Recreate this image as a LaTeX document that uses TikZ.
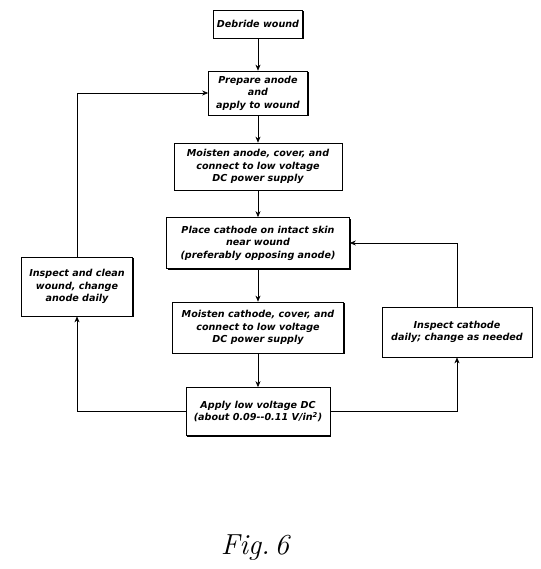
\documentclass[tikz,border=0pt]{standalone}
\usepackage{fontspec}
\usepackage{tikz}
\usetikzlibrary{arrows.meta,shadows}
\newfontfamily\handfont{DejaVu Sans}

\begin{document}
\begin{tikzpicture}[x=1pt,y=-1pt,
  box/.style={draw,line width=0.7pt,fill=white,align=center,inner sep=2pt,
    font=\handfont\bfseries\itshape\fontsize{9.6}{12.6}\selectfont,
    drop shadow={shadow xshift=1.3pt,shadow yshift=-1.3pt,fill=black,opacity=1}},
  arr/.style={-{Stealth[length=6pt,width=5pt]},line width=0.6pt}]
\useasboundingbox (0,0) rectangle (540,569);
\node[box,minimum width=89pt,minimum height=28pt] (b1) at (258,24) {Debride wound};
\node[box,minimum width=99pt,minimum height=44pt] (b2) at (258,93) {Prepare anode\\and\\apply to wound};
\node[box,minimum width=168pt,minimum height=47pt] (b3) at (258,166.5) {Moisten anode, cover, and\\connect to low voltage\\DC power supply};
\node[box,minimum width=183pt,minimum height=51pt] (b4) at (258,243) {Place cathode on intact skin\\near wound\\(preferably opposing anode)};
\node[box,minimum width=171pt,minimum height=51pt] (b5) at (258,327.5) {Moisten cathode, cover, and\\connect to low voltage\\DC power supply};
\node[box,minimum width=144pt,minimum height=48pt] (b6) at (258,411.5) {Apply low voltage DC\\(about 0.09--0.11 V/in\textsuperscript{2})};
\node[box,minimum width=111pt,minimum height=59pt] (lbox) at (77,286.5) {Inspect and clean\\wound, change\\anode daily};
\node[box,minimum width=150pt,minimum height=50pt] (rbox) at (457,332) {Inspect cathode\\daily; change as needed};
\node[font=\itshape\fontsize{29}{33}\selectfont] (fig) at (255,548) {Fig.\,6};

\draw[arr] (b1) -- (b2);
\draw[arr] (b2) -- (b3);
\draw[arr] (b3) -- (b4);
\draw[arr] (b4) -- (b5);
\draw[arr] (b5) -- (b6);
\draw[arr] (b6.west) -| (lbox.south);
\draw[arr] (lbox.north) |- (b2.west);
\draw[arr] (b6.east) -| (rbox.south);
\draw[arr] (rbox.north) |- (b4.east);
\end{tikzpicture}
\end{document}
